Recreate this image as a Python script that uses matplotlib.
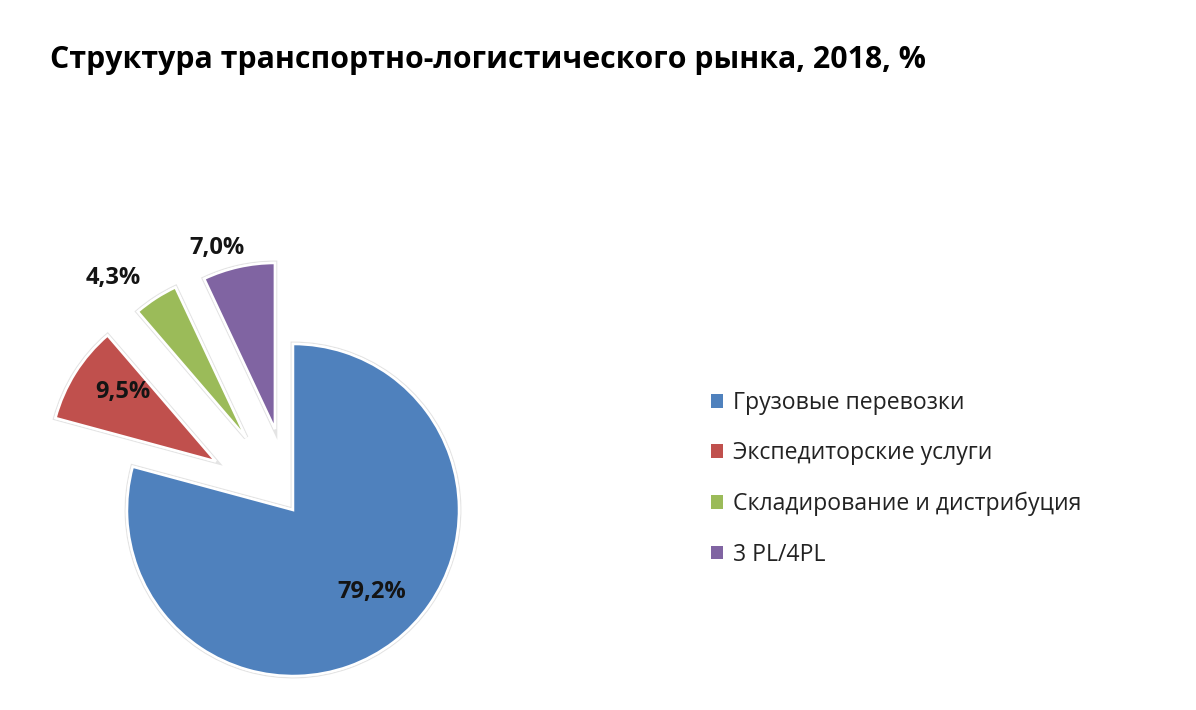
import matplotlib
matplotlib.use("Agg")
import matplotlib.pyplot as plt
import matplotlib.patheffects as pe
from matplotlib.patches import Patch
import numpy as np

title = "Структура транспортно-логистического рынка, 2018, %"
categories = ["Грузовые перевозки", "Экспедиторские услуги",
              "Складирование и дистрибуция", "3 PL/4PL"]
values = [79.2, 9.5, 4.3, 7.0]
colors = ["#4F81BD", "#C0504D", "#9BBB59", "#8064A2"]
explode = [0.0, 0.55, 0.52, 0.50]
label_dist = [0.686, 0.70, 1.25, 1.145]
label_shift = [6.5, -4.3, 6.9, 5.1]

plt.rcParams['font.family'] = ['Open Sans', 'DejaVu Sans']

fig = plt.figure(figsize=(11.96, 7.10), dpi=100)
ax = fig.add_axes([0, 0, 0.5, 1])
wedges, _ = ax.pie(values, colors=colors, startangle=90, counterclock=False,
                   explode=explode, radius=1.0,
                   wedgeprops=dict(edgecolor="white", linewidth=1.8))
for w in wedges:
    w.set_path_effects([pe.withStroke(linewidth=3.5, foreground="#e4e4e4"),
                        pe.Normal()])
ax.set_xlim(-293/166, (598-293)/166)
ax.set_ylim(-200/166, 510/166)
ax.set_aspect('equal', adjustable='box')
ax.axis('off')

for w, v, d, s in zip(wedges, values, label_dist, label_shift):
    ang = np.deg2rad((w.theta1 + w.theta2) / 2 + s)
    cx, cy = w.center
    ax.text(cx + d*np.cos(ang), cy + d*np.sin(ang),
            f"{v:.1f}%".replace('.', ','), ha='center', va='center',
            fontsize=17, fontweight='bold', color='#141414')

fig.text(50/1196, 1 - 60/710, title, ha='left', va='center',
         fontsize=21.8, fontweight='bold', color='black')

handles = [Patch(facecolor=c, edgecolor='none') for c in colors]
fig.legend(handles, categories, loc='upper left',
           bbox_to_anchor=(690/1196, 1 - 370/710), frameon=False,
           fontsize=16.6, handlelength=0.55, handleheight=0.55,
           handletextpad=0.4, labelspacing=1.15, labelcolor='#222222')

fig.savefig("out.png", dpi=100, facecolor='white')
